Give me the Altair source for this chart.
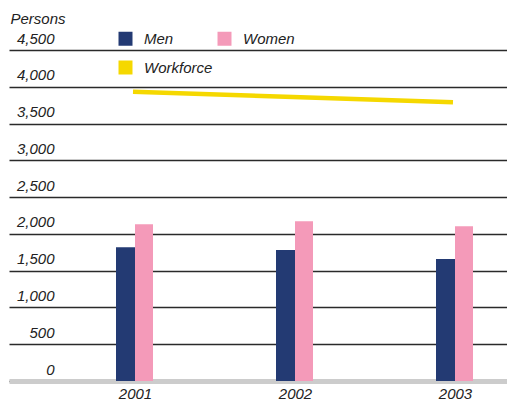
import altair as alt
import pandas as pd

years = [2001, 2002, 2003]
men = [1820, 1780, 1658]
women = [2131, 2171, 2104]
workforce = [3932, 3860, 3789]
y_ticks = [0, 500, 1000, 1500, 2000, 2500, 3000, 3500, 4000, 4500]
series = ["Men", "Women", "Workforce"]

bars = pd.DataFrame({
    "year": years * 2,
    "group": ["Men"] * 3 + ["Women"] * 3,
    "value": men + women,
})
line_df = pd.DataFrame({"year": years, "value": workforce})

FONT = "Liberation Sans"
TXT = "#222222"

xscale = alt.Scale(domain=[2000.2125, 2003.325], nice=False, zero=False, padding=0)
yscale = alt.Scale(domain=[0, 4500], nice=False, padding=0)
color = alt.Color(
    "group:N",
    scale=alt.Scale(domain=series, range=["#233a73", "#f49ab9", "#f5d800"]),
    legend=alt.Legend(
        title=None, orient="none", legendX=109, legendY=-19, columns=2,
        direction="horizontal", values=series,
        symbolType="square", symbolSize=196, symbolStrokeWidth=0,
        labelFont=FONT, labelFontStyle="italic", labelFontSize=15,
        labelColor=TXT, labelOffset=11, columnPadding=4, rowPadding=13,
        padding=0, symbolOpacity=1,
    ),
)

xaxis = alt.Axis(
    values=years, format="d", title=None, ticks=False, grid=False,
    domain=True, domainColor="#cccccc", domainWidth=5,
    labelFont=FONT, labelFontStyle="italic", labelFontSize=15,
    labelColor=TXT, labelPadding=5,
)
yaxis = alt.Axis(
    values=y_ticks, format=",d", title="Persons", titleAngle=0, titleX=1,
    titleY=-27, titleAlign="left", titleBaseline="alphabetic",
    titleFont=FONT, titleFontStyle="italic", titleFontSize=15,
    titleFontWeight="normal", titleColor=TXT,
    ticks=False, tickSize=0, domain=False, grid=True,
    gridColor="#2a2a2a", gridWidth=1.3,
    labelFont=FONT, labelFontStyle="italic", labelFontSize=15,
    labelColor=TXT, labelAlign="right", labelPadding=-45,
    labelOffset=-12, labelBaseline="middle",
)

X = alt.X("year:Q", scale=xscale, axis=xaxis)
Y = alt.Y("value:Q", scale=yscale, axis=yaxis)

men_layer = alt.Chart(bars).transform_filter(alt.datum.group == "Men").mark_bar(
    width=19, xOffset=-9.5
).encode(x=X, y=Y, color=color)
women_layer = alt.Chart(bars).transform_filter(alt.datum.group == "Women").mark_bar(
    width=18, xOffset=9
).encode(x=X, y=Y, color=color)
line_layer = alt.Chart(line_df).mark_line(strokeWidth=4.5, xOffset=-2).encode(
    x=X, y=Y, color=alt.datum("Workforce"),
)

chart = alt.layer(men_layer, women_layer, line_layer).properties(
    width=498, height=331,
    autosize=alt.AutoSizeParams(type="none"),
    padding={"left": 1, "top": 42, "right": 0, "bottom": 22},
).configure_view(stroke=None)

chart.save("out.html", embed_options={"renderer": "svg", "actions": False})
